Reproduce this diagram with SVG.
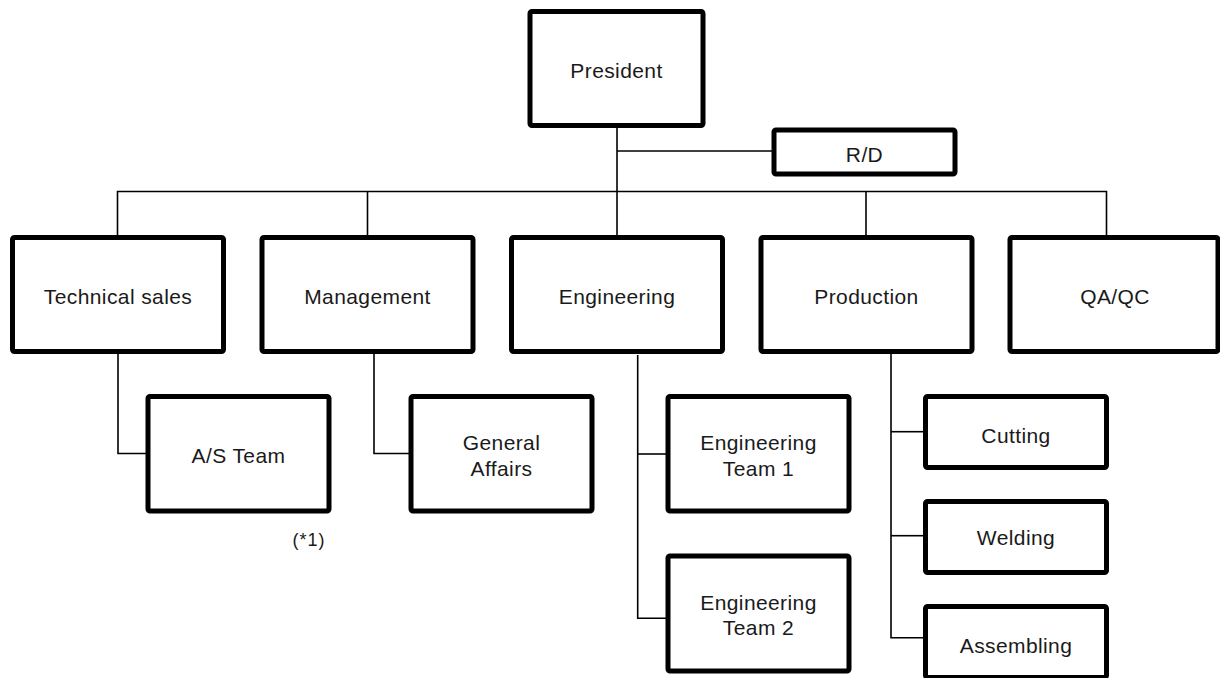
<svg xmlns="http://www.w3.org/2000/svg" width="1220" height="678" viewBox="0 0 1220 678">
<style>
.box{fill:#fff;stroke:#000;stroke-width:5;}
.ln{fill:none;stroke:#000;stroke-width:1.6;}
text{font-family:"Liberation Sans",Arial,sans-serif;font-size:21px;fill:#1a1a1a;text-anchor:middle;letter-spacing:0.4px;}
.note{font-size:18px;letter-spacing:1px;}
</style>
<rect width="1220" height="678" fill="#fff"/>
<g id="connectors">
<path class="ln" d="M617,128V235"/>
<path class="ln" d="M617,151H772"/>
<path class="ln" d="M117.5,235V191.5H1106.5V235"/>
<path class="ln" d="M367.5,191.5V235"/>
<path class="ln" d="M866,191.5V235"/>
<path class="ln" d="M118,354V453.5H146"/>
<path class="ln" d="M374,354V453.5H409"/>
<path class="ln" d="M637.7,355V618.3H666"/>
<path class="ln" d="M637.7,454H666"/>
<path class="ln" d="M891,354V637.7H923"/>
<path class="ln" d="M891,431.7H923"/>
<path class="ln" d="M891,535.7H923"/>
</g>
<g id="president"><rect class="box" x="530" y="11.5" width="173" height="114" rx="2"/><text x="616.5" y="78">President</text></g>
<g id="rd"><rect class="box" x="774" y="130" width="181" height="44" rx="2"/><text x="864.5" y="161.5">R/D</text></g>
<g id="technical-sales"><rect class="box" x="12.5" y="237.5" width="211" height="114" rx="2"/><text x="118" y="304">Technical sales</text></g>
<g id="management"><rect class="box" x="262" y="237.5" width="211" height="114" rx="2"/><text x="367.5" y="304">Management</text></g>
<g id="engineering"><rect class="box" x="511.5" y="237.5" width="211" height="114" rx="2"/><text x="617" y="304">Engineering</text></g>
<g id="production"><rect class="box" x="761" y="237.5" width="211" height="114" rx="2"/><text x="866.5" y="304">Production</text></g>
<g id="qaqc"><rect class="box" x="1010" y="237.5" width="208" height="114" rx="2"/><text x="1115" y="304">QA/QC</text></g>
<g id="as-team"><rect class="box" x="148" y="396.5" width="181" height="114.5" rx="2"/><text x="238.5" y="462.5">A/S Team</text><text class="note" x="309" y="546">(*1)</text></g>
<g id="general-affairs"><rect class="box" x="411" y="396.5" width="181" height="114.5" rx="2"/><text x="501.5" y="450">General</text><text x="501.5" y="476">Affairs</text></g>
<g id="eng-team-1"><rect class="box" x="668" y="396.5" width="181" height="114.5" rx="2"/><text x="758.5" y="450">Engineering</text><text x="758.5" y="476">Team 1</text></g>
<g id="eng-team-2"><rect class="box" x="668" y="556" width="181" height="115" rx="2"/><text x="758.5" y="610">Engineering</text><text x="758.5" y="635">Team 2</text></g>
<g id="cutting"><rect class="box" x="925.5" y="396.5" width="181" height="71" rx="2"/><text x="1016" y="442.5">Cutting</text></g>
<g id="welding"><rect class="box" x="925.5" y="501.5" width="181" height="71" rx="2"/><text x="1016" y="545">Welding</text></g>
<g id="assembling"><rect class="box" x="925.5" y="606.5" width="181" height="71" rx="2"/><text x="1016" y="653">Assembling</text></g>
</svg>
